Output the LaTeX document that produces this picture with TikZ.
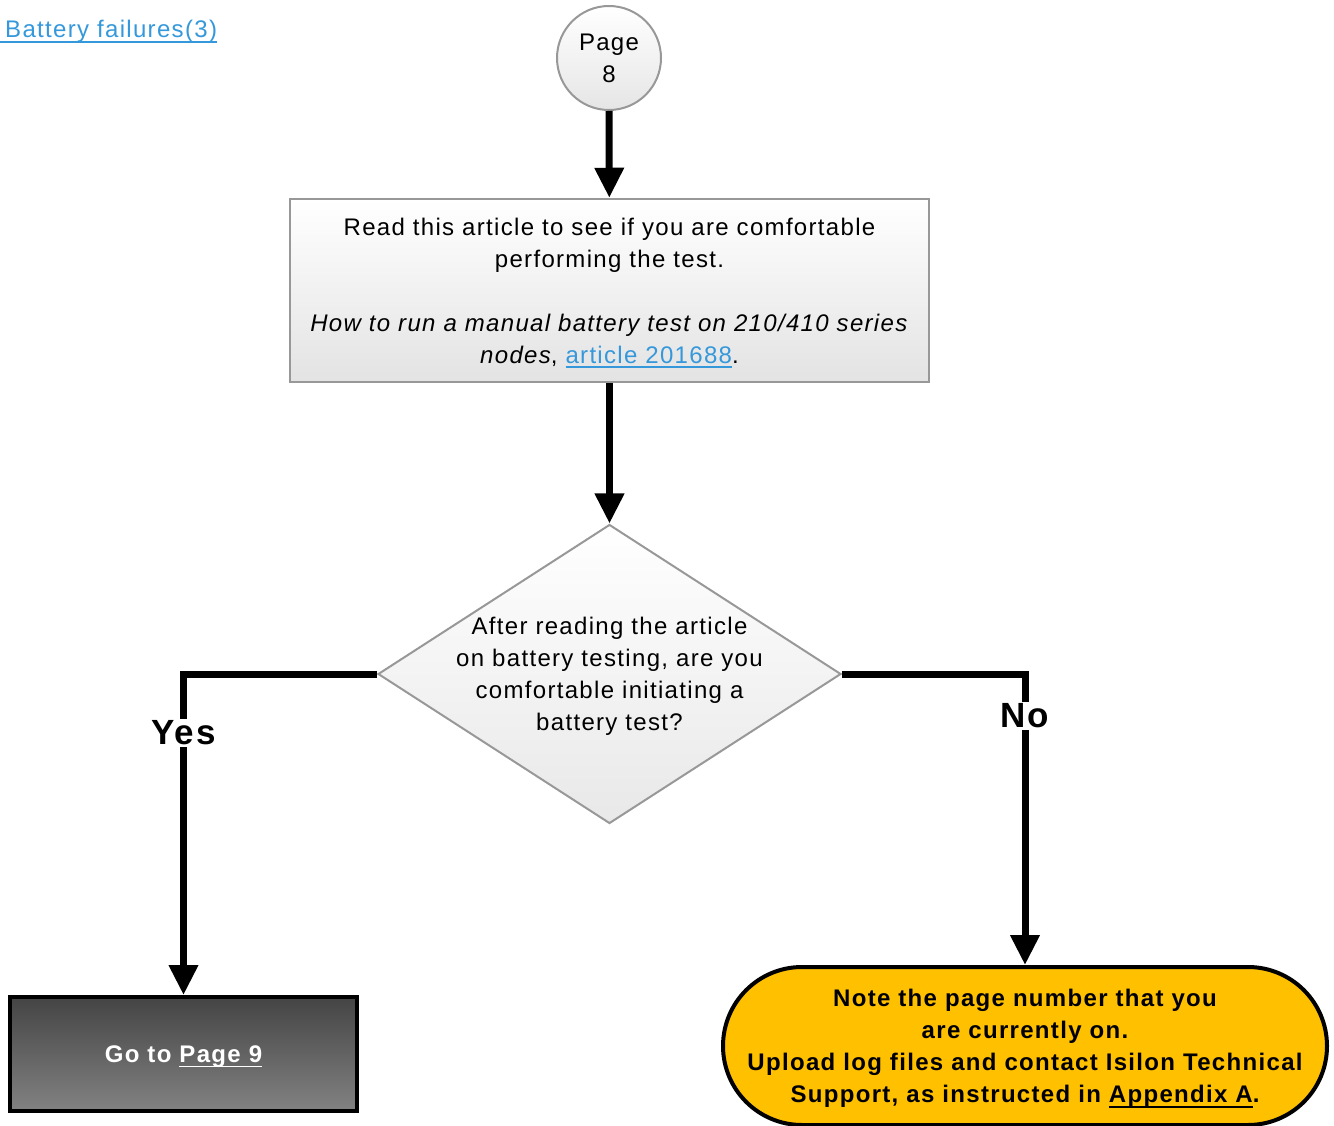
\documentclass[tikz,border=0pt]{standalone}
\usepackage{fontspec}
\setmainfont{Liberation Sans}[LetterSpace=5.5]
\usetikzlibrary{shapes.geometric,arrows.meta}

\definecolor{linkblue}{RGB}{52,152,219}
\definecolor{edgegray}{RGB}{152,152,152}
\definecolor{termgold}{RGB}{255,192,0}
\definecolor{godark}{RGB}{68,68,68}
\definecolor{golight}{RGB}{130,130,130}

% underline drawn through descenders, like a hyperlink
\newsavebox\ulbox
\newcommand\undl[1]{\sbox\ulbox{#1}\rlap{\rule[-5pt]{\wd\ulbox}{1.7pt}}\usebox\ulbox}

\begin{document}
\begin{tikzpicture}[x=1pt,y=-1pt,
  txt/.style={font=\fontsize{24}{32}\selectfont, align=center, text depth=0pt},
  pagecircle/.style={circle, draw=edgegray, line width=2pt, minimum size=104pt,
    inner sep=0pt, top color=white, bottom color=gray!20, txt},
  stepbox/.style={rectangle, draw=edgegray, line width=2.5pt, minimum width=639pt,
    minimum height=183pt, inner sep=0pt, top color=white, bottom color=gray!22, txt},
  decision/.style={diamond, draw=edgegray, line width=2pt, minimum width=463pt,
    minimum height=299pt, inner sep=0pt, top color=white, bottom color=gray!18},
  gobox/.style={rectangle, draw=black, line width=4pt, minimum width=347pt,
    minimum height=114pt, top color=godark, bottom color=golight, text=white,
    text depth=0pt, font=\fontsize{24}{32}\selectfont\bfseries},
  terminal/.style={rectangle, rounded corners=79pt, draw=black, line width=4pt,
    fill=termgold, minimum width=604pt, minimum height=158pt, align=center,
    text depth=0pt, font=\fontsize{24}{32}\selectfont\bfseries},
  conn/.style={line width=7pt, -{Triangle[width=28pt,length=30pt]}},
  answer/.style={fill=white, inner sep=2pt, font=\fontsize{35}{40}\selectfont\bfseries}
]
\useasboundingbox (0,0) rectangle (1334,1126);

% link back to the previous page
\node[anchor=base west, inner sep=0pt, text=linkblue, font=\fontsize{24}{32}\selectfont]
  (back) at (0,38) {\undl{\hspace{5pt}Battery failures(3)}};

% flow shapes
\node[pagecircle] (pg) at (609,58) {Page\\8};

\node[stepbox] (read) at (609.5,290.5)
  {Read this article to see if you are comfortable\\
   performing the test.\\[32pt]
   \textit{How to run a manual battery test on 210/410 series}\\
   \textit{nodes}, \textcolor{linkblue}{\undl{article 201688}}.};

\node[decision] (q) at (609.5,674) {};
\node[txt] (qtext) at (q.center)
  {After reading the article\\on battery testing, are you\\comfortable initiating a\\battery test?};

\node[gobox] (go) at (183.5,1054) {Go to \undl{Page 9}};

\node[terminal] (up) at (1025,1046)
  {Note the page number that you\\
   are currently on.\\
   Upload log files and contact Isilon Technical\\
   Support, as instructed in \undl{Appendix A}.};

% connectors
\draw[conn] (pg) -- (read);
\draw[conn] (read) -- (q);
\draw[conn] (q.west) -| (go.north);
\draw[conn] (q.east) -| (up.north);

\node[answer] (yes) at (183.5,733) {Yes};
\node[answer] (no) at (1025,716) {No};
\end{tikzpicture}
\end{document}
